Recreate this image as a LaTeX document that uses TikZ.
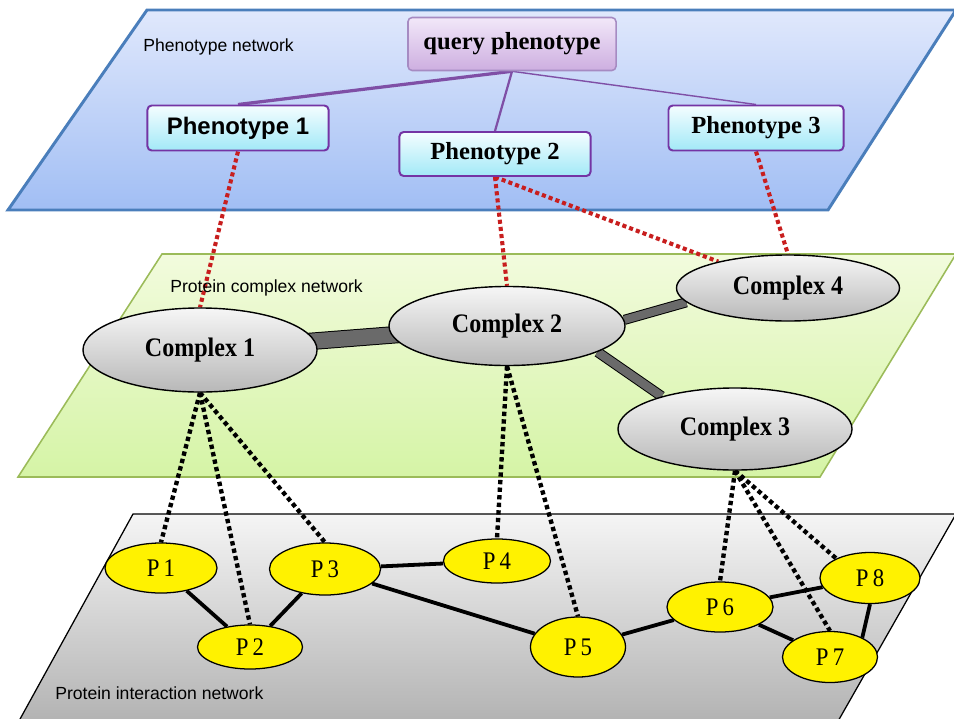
\documentclass[tikz,border=0pt]{standalone}
\usepackage{fontspec}
\setmainfont{Liberation Serif}
\setsansfont{Liberation Sans}
\newfontfamily\narrowserif{Liberation Serif}[FakeStretch = 0.9]
\usepackage{xcolor}
\usepackage{tikz}
\usetikzlibrary{shapes.geometric}
\usetikzlibrary{positioning}

\definecolor{blueTop}{HTML}{E0E8FC}
\definecolor{blueBot}{HTML}{A1BEF4}
\definecolor{blueLine}{HTML}{4A7EBB}
\definecolor{greenTop}{HTML}{F2FBDD}
\definecolor{greenBot}{HTML}{D5F4A6}
\definecolor{greenLine}{HTML}{9BBB59}
\definecolor{grayTop}{HTML}{F5F5F5}
\definecolor{grayBot}{HTML}{B0B0B0}
\definecolor{queryTop}{HTML}{F2E8F9}
\definecolor{queryBot}{HTML}{CDAEE0}
\definecolor{queryLine}{HTML}{A68BC2}
\definecolor{phenoTop}{HTML}{F4FDFF}
\definecolor{phenoBot}{HTML}{A2E9F7}
\definecolor{phenoLine}{HTML}{7434A4}
\definecolor{treeLine}{HTML}{7F4FA6}
\definecolor{dotRed}{HTML}{C81E1E}
\definecolor{barFill}{HTML}{6A6A6A}

\pgfdeclarelayer{planes}
\pgfdeclarelayer{links}
\pgfsetlayers{planes,links,main}

\begin{document}
\begin{tikzpicture}
[
	x = 0.025cm, y = -0.025cm,
	caption/.style = {anchor = west, inner sep = 0cm, font = \sffamily\fontsize{12.5}{14}\selectfont},
	query/.style = {rectangle, rounded corners = 3pt, draw = queryLine, line width = 1.1pt, top color = queryTop, bottom color = queryBot, font = \fontsize{17.5}{20}\selectfont\bfseries},
	pheno/.style = {rectangle, rounded corners = 3pt, draw = phenoLine, line width = 1.4pt, top color = phenoTop, bottom color = phenoBot, font = \fontsize{17.5}{20}\selectfont\bfseries},
	cplx/.style = {ellipse, draw = black, line width = 1pt, inner sep = 0cm, top color = grayTop!90!white, bottom color = black!28, font = \narrowserif\fontsize{19}{22}\selectfont\bfseries},
	prot/.style = {ellipse, draw = black, line width = 0.9pt, inner sep = 0cm, fill = yellow, font = \narrowserif\fontsize{18}{21}\selectfont},
	tree/.style = {draw = treeLine},
	reddots/.style = {draw = dotRed, line width = 2.9pt, dash pattern = on 2.9pt off 2.2pt},
	blackdots/.style = {draw = black, line width = 3.1pt, dash pattern = on 3.1pt off 2.3pt},
	bond/.style = {draw = black, line width = 2.7pt},
	bar/.style = {draw = black, line width = 0.7pt, double = barFill, double distance = #1},
]

	\useasboundingbox (0,0) rectangle (954,718);

	% the three planes
	\begin{pgfonlayer}{planes}
	\fill [white] (0,0) rectangle (954,718);
	\begin{scope}
	\clip (0,0) rectangle (954,718);
	\draw [line width = 2.1pt, draw = blueLine, top color = blueTop, bottom color = blueBot]
		(147,10) -- (956,10) -- (828,210) -- (8,210) -- cycle;
	\draw [line width = 1.1pt, draw = greenLine, top color = greenTop, bottom color = greenBot]
		(162,254) -- (956,254) -- (820,477) -- (18,477) -- cycle;
	\draw [line width = 0.9pt, draw = black, top color = grayTop, bottom color = grayBot]
		(133,514) -- (956,514) -- (833,730) -- (14,730) -- cycle;
	\end{scope}
	\end{pgfonlayer}

	\node (lbPheno) [caption] at (143,47) {Phenotype network};
	\node (lbCplx) [caption] at (170,288) {Protein complex network};
	\node (lbProt) [caption] at (55,693) {Protein interaction network};

	% phenotypes
	\node (Q) [query, minimum width = 5.2cm, minimum height = 1.325cm] at (512,44) {query phenotype};
	\node (Ph1) [pheno, minimum width = 4.525cm, minimum height = 1.125cm, font = \sffamily\fontsize{17}{20}\selectfont\bfseries] at (238,128) {Phenotype 1};
	\node (Ph2) [pheno, minimum width = 4.775cm, minimum height = 1.1cm] at (495,154) {Phenotype 2};
	\node (Ph3) [pheno, minimum width = 4.375cm, minimum height = 1.125cm] at (756,128) {Phenotype 3};

	% complexes
	\node (C1) [cplx, minimum width = 5.85cm, minimum height = 2.1cm] at (200,350) {Complex 1};
	\node (C2) [cplx, minimum width = 5.9cm, minimum height = 1.975cm] at (507,326) {Complex 2};
	\node (C4) [cplx, minimum width = 5.575cm, minimum height = 1.65cm] at (788,288) {Complex 4};
	\node (C3) [cplx, minimum width = 5.85cm, minimum height = 2.05cm] at (735,429) {Complex 3};

	% proteins
	\node (P1) [prot, minimum width = 2.8cm, minimum height = 1.25cm] at (161,568) {P\,1};
	\node (P2) [prot, minimum width = 2.625cm, minimum height = 1.1cm] at (250,647) {P\,2};
	\node (P3) [prot, minimum width = 2.775cm, minimum height = 1.3cm] at (325,569) {P\,3};
	\node (P4) [prot, minimum width = 2.675cm, minimum height = 1.1cm] at (497,561) {P\,4};
	\node (P5) [prot, minimum width = 2.375cm, minimum height = 1.5cm] at (578,647) {P\,5};
	\node (P6) [prot, minimum width = 2.65cm, minimum height = 1.25cm] at (720,607) {P\,6};
	\node (P7) [prot, minimum width = 2.375cm, minimum height = 1.275cm] at (830,657) {P\,7};
	\node (P8) [prot, minimum width = 2.5cm, minimum height = 1.275cm] at (870,578) {P\,8};

	\begin{pgfonlayer}{links}
	% query tree
	\draw [tree, line width = 2.3pt] (Q.south) -- (Ph1.north);
	\draw [tree, line width = 1.6pt] (Q.south) -- (Ph2.north);
	\draw [tree, line width = 1pt] (Q.south) -- (Ph3.north);

	% phenotype -- complex
	\draw [reddots] (Ph1.south) -- (C1.north);
	\draw [reddots] (Ph2.south) -- (C2.north);
	\draw [reddots] (Ph2.south) -- (C4);
	\draw [reddots] (Ph3.south) -- (C4.north);

	% complex -- complex
	\draw [bar = 11pt] (C1.center) -- (C2.center);
	\draw [bar = 5.8pt] (C2.3) -- (C4.188);
	\draw [bar = 6pt] (C2.-16) -- (C3.156);

	% complex -- protein
	\draw [blackdots] (C1.south) -- (P1.north);
	\draw [blackdots] (C1.south) -- (P2.north);
	\draw [blackdots] (C1.south) -- (P3.north);
	%
	\draw [blackdots] (C2.south) -- (P4.north);
	\draw [blackdots] (C2.south) -- (P5.north);
	%
	\draw [blackdots] (C3.south) -- (P6.north);
	\draw [blackdots] (C3.south) -- (P7.north);
	\draw [blackdots] (C3.south) -- (P8.150);

	% protein interactions
	\draw [bond] (P1) -- (P2);
	\draw [bond] (P2) -- (P3);
	\draw [bond] (P3) -- (P4);
	\draw [bond] (P3) -- (P5);
	\draw [bond] (P5) -- (P6);
	\draw [bond] (P6) -- (P8);
	\draw [bond] (P6) -- (P7);
	\draw [bond] (P8.south) -- (P7.31);
	\end{pgfonlayer}

\end{tikzpicture}
\end{document}
